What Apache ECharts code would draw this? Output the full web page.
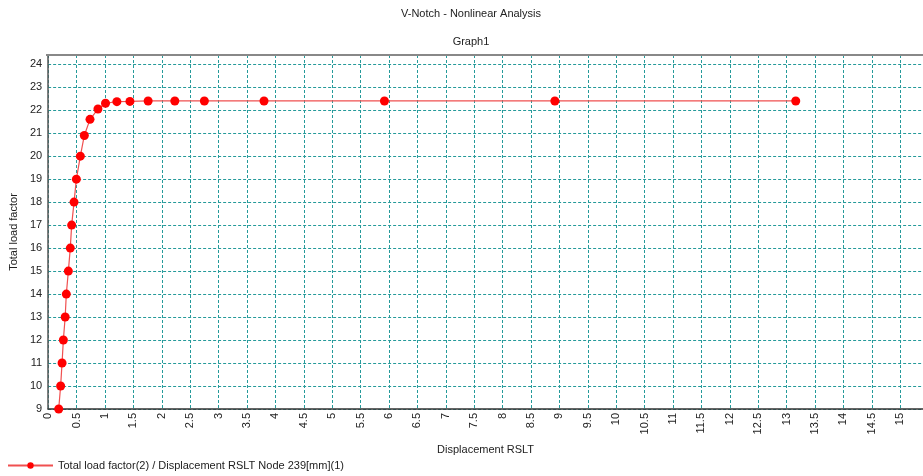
<!DOCTYPE html>
<html><head><meta charset="utf-8">
<script src="https://cdn.jsdelivr.net/npm/echarts@6/dist/echarts.min.js"></script>
<style>html,body{margin:0;padding:0;background:#fff}#c{width:923px;height:476px}</style>
</head><body><div id="c"></div>
<script>
const titleText = 'V-Notch - Nonlinear Analysis';
const subtitleText = 'Graph1';
const xAxisName = 'Displacement RSLT';
const yAxisName = 'Total load factor';
const seriesName = 'Total load factor(2) / Displacement RSLT Node 239[mm](1)';
const displacement = [0.186, 0.22, 0.245, 0.268, 0.30, 0.32, 0.356, 0.39, 0.414, 0.456, 0.497, 0.567, 0.637, 0.737, 0.877, 1.01, 1.21, 1.44, 1.76, 2.23, 2.75, 3.80, 5.92, 8.92, 13.16];
const loadFactor = [9, 10, 11, 12, 13, 14, 15, 16, 17, 18, 19, 20, 20.9, 21.6, 22.05, 22.3, 22.37, 22.38, 22.4, 22.4, 22.4, 22.4, 22.4, 22.4, 22.4];
const xMin = 0, xMax = 15.4, xStep = 0.5;
const yMin = 9, yMax = 24.4, yStep = 1;

const points = displacement.map((x, i) => [x, loadFactor[i]]);
const font = 'Liberation Sans, Arial, sans-serif';
const chart = echarts.init(document.getElementById('c'), null, {renderer: 'canvas'});
const gridLine = {show: true, lineStyle: {color: '#259a9a', type: [3, 2], width: 1}};
chart.setOption({
  animation: false,
  backgroundColor: '#fff',
  title: [
    {text: titleText, left: 466, top: 3, textAlign: 'center', textStyle: {fontFamily: font, fontSize: 11, fontWeight: 'normal', color: '#222'}},
    {text: subtitleText, left: 466, top: 31, textAlign: 'center', textStyle: {fontFamily: font, fontSize: 11, fontWeight: 'normal', color: '#222'}}
  ],
  grid: {left: 46.7, right: -1.5, top: 55, bottom: 67, show: false},
  legend: {
    left: 2, top: 455, itemWidth: 45, itemHeight: 8, itemGap: 10,
    textStyle: {fontFamily: font, fontSize: 11, color: '#222'},
    data: [seriesName]
  },
  xAxis: {
    type: 'value', min: xMin, max: xMax, interval: xStep,
    name: xAxisName, nameLocation: 'middle', nameGap: 35,
    nameTextStyle: {fontFamily: font, fontSize: 11, color: '#222'},
    axisLine: {show: true, onZero: false, lineStyle: {color: '#333', width: 1.5}},
    axisTick: {show: false},
    splitLine: gridLine,
    axisLabel: {
      rotate: 90, margin: 4, fontFamily: font, fontSize: 11, color: '#222',
      showMaxLabel: false,
      formatter: v => Math.abs(v * 2 - Math.round(v * 2)) < 1e-6 ? String(v) : ''
    }
  },
  yAxis: {
    type: 'value', min: yMin, max: yMax, interval: yStep,
    name: yAxisName, nameLocation: 'middle', nameGap: 27,
    nameTextStyle: {fontFamily: font, fontSize: 11, color: '#222'},
    axisLine: {show: true, onZero: false, lineStyle: {color: '#555', width: 1.5}},
    axisTick: {show: false},
    splitLine: gridLine,
    axisLabel: {
      margin: 6, fontFamily: font, fontSize: 11, color: '#222',
      showMaxLabel: false,
      formatter: v => Number.isInteger(v) ? String(v) : ''
    }
  },
  graphic: [
    {type: 'line', shape: {x1: 46, y1: 55, x2: 923, y2: 55}, style: {stroke: '#888', lineWidth: 2}, z: 10}
  ],
  series: [{
    name: seriesName,
    type: 'line',
    data: points,
    clip: false,
    symbol: 'circle',
    symbolSize: 9,
    itemStyle: {color: '#ff0000'},
    lineStyle: {color: '#f05050', width: 1.2}
  }]
});
</script></body></html>
